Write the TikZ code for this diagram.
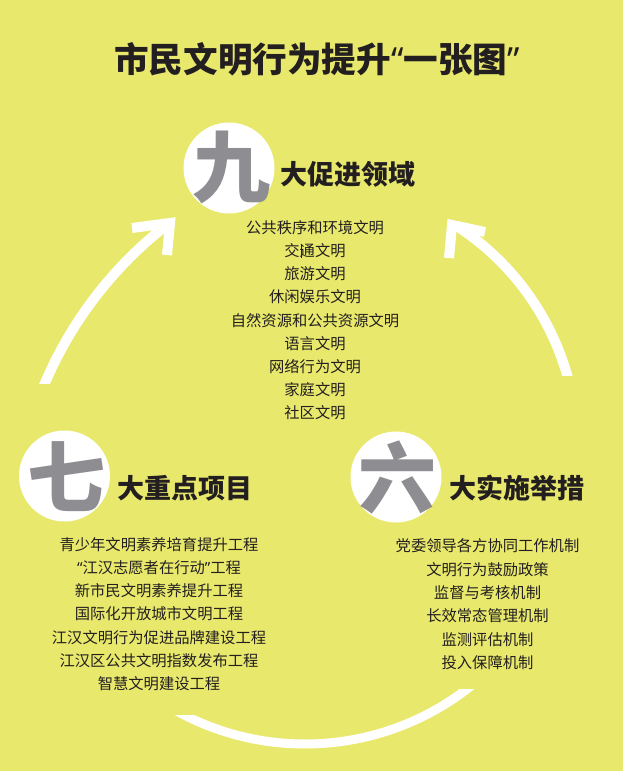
\documentclass[tikz,border=0pt]{standalone}
\usepackage{fontspec}
\newfontfamily\cjk{Noto Sans CJK SC}
\newfontfamily\latinq{Noto Sans}
\definecolor{bg}{RGB}{232,232,108}
\definecolor{ink}{RGB}{35,31,32}
\definecolor{numgray}{RGB}{142,142,146}
\begin{document}
\begin{tikzpicture}[x=1pt,y=-1pt,
  titletext/.style={font=\cjk\bfseries\fontsize{34.6}{40}\selectfont, text=ink, anchor=base, inner sep=0pt},
  headtext/.style={font=\cjk\bfseries\fontsize{27}{32}\selectfont, text=ink, anchor=base west, inner sep=0pt},
  numtext/.style={font=\cjk\bfseries\fontsize{78}{80}\selectfont, text=numgray, anchor=base, inner sep=0pt},
  itemtext/.style={font=\cjk\fontsize{15.3}{18}\selectfont, text=ink, anchor=base, inner sep=0pt},
  disc/.style={circle, fill=white, draw=none, minimum size=91pt, inner sep=0pt},
  band/.style={draw=white, line width=10pt, line cap=butt},
  barb/.style={draw=white, line width=10pt, line join=miter, miter limit=10, line cap=butt}]
\fill[bg] (0,0) rectangle (623,771);
\useasboundingbox (0,0) rectangle (623,771);

% title
\node[titletext] (title) at (317,72) {市民文明行为提升{\latinq “}一张图{\latinq ”}};

% arrows
\begin{scope}
  \clip (0,0) rectangle (623,383);
  \draw[band] (411.7,539.7) ++(200:398.8) arc[start angle=200, end angle=232, radius=398.8];
\end{scope}
\draw[barb] (132,228) -- (170,223) -- (167,255);
\begin{scope}
  \clip (0,0) rectangle (623,375);
  \draw[band] (313.3,447.7) ++(-10:264) arc[start angle=-10, end angle=-57, radius=264];
\end{scope}
\draw[barb] (485,232) -- (452,225) -- (449,258);
\begin{scope}
  \clip (140,715) -- (300,715) -- (330,689) -- (540,689) -- (540,790) -- (140,790) -- cycle;
  \draw[band, line width=9pt] (305,478) ++(125:266) arc[start angle=125, end angle=45, radius=266];
\end{scope}

% nine
\node[disc] (c9) at (229,168) {};
\node[numtext] (n9) at (231,196) {九};
\node[headtext] (h9) at (280,184) {大促进领域};
\foreach \t [count=\i] in {公共秩序和环境文明,交通文明,旅游文明,休闲娱乐文明,自然资源和公共资源文明,语言文明,网络行为文明,家庭文明,社区文明}
  \node[itemtext] (a\i) at (315,{233.8+23.05*(\i-1)}) {\t};
\draw[ink, line width=0.6pt] (301.5,245) -- (301.5,258);

% seven
\node[disc] (c7) at (64.5,476) {};
\node[numtext] (n7) at (66.5,506) {七};
\node[headtext] (h7) at (117,498) {大重点项目};
\foreach \t [count=\i] in {青少年文明素养培育提升工程,{{\latinq “}江汉志愿者在行动{\latinq ”}工程},新市民文明素养提升工程,国际化开放城市文明工程,江汉文明行为促进品牌建设工程,江汉区公共文明指数发布工程,智慧文明建设工程}
  \node[itemtext] (b\i) at (159,{550.8+23.05*(\i-1)}) {\t};

% six
\node[disc] (c6) at (396,477) {};
\node[numtext] (n6) at (397,507) {六};
\node[headtext] (h6) at (449,498) {大实施举措};
\foreach \t [count=\i] in {党委领导各方协同工作机制,文明行为鼓励政策,监督与考核机制,长效常态管理机制,监测评估机制,投入保障机制}
  \node[itemtext] (d\i) at (487.5,{551.8+23.3*(\i-1)}) {\t};
\end{tikzpicture}
\end{document}
